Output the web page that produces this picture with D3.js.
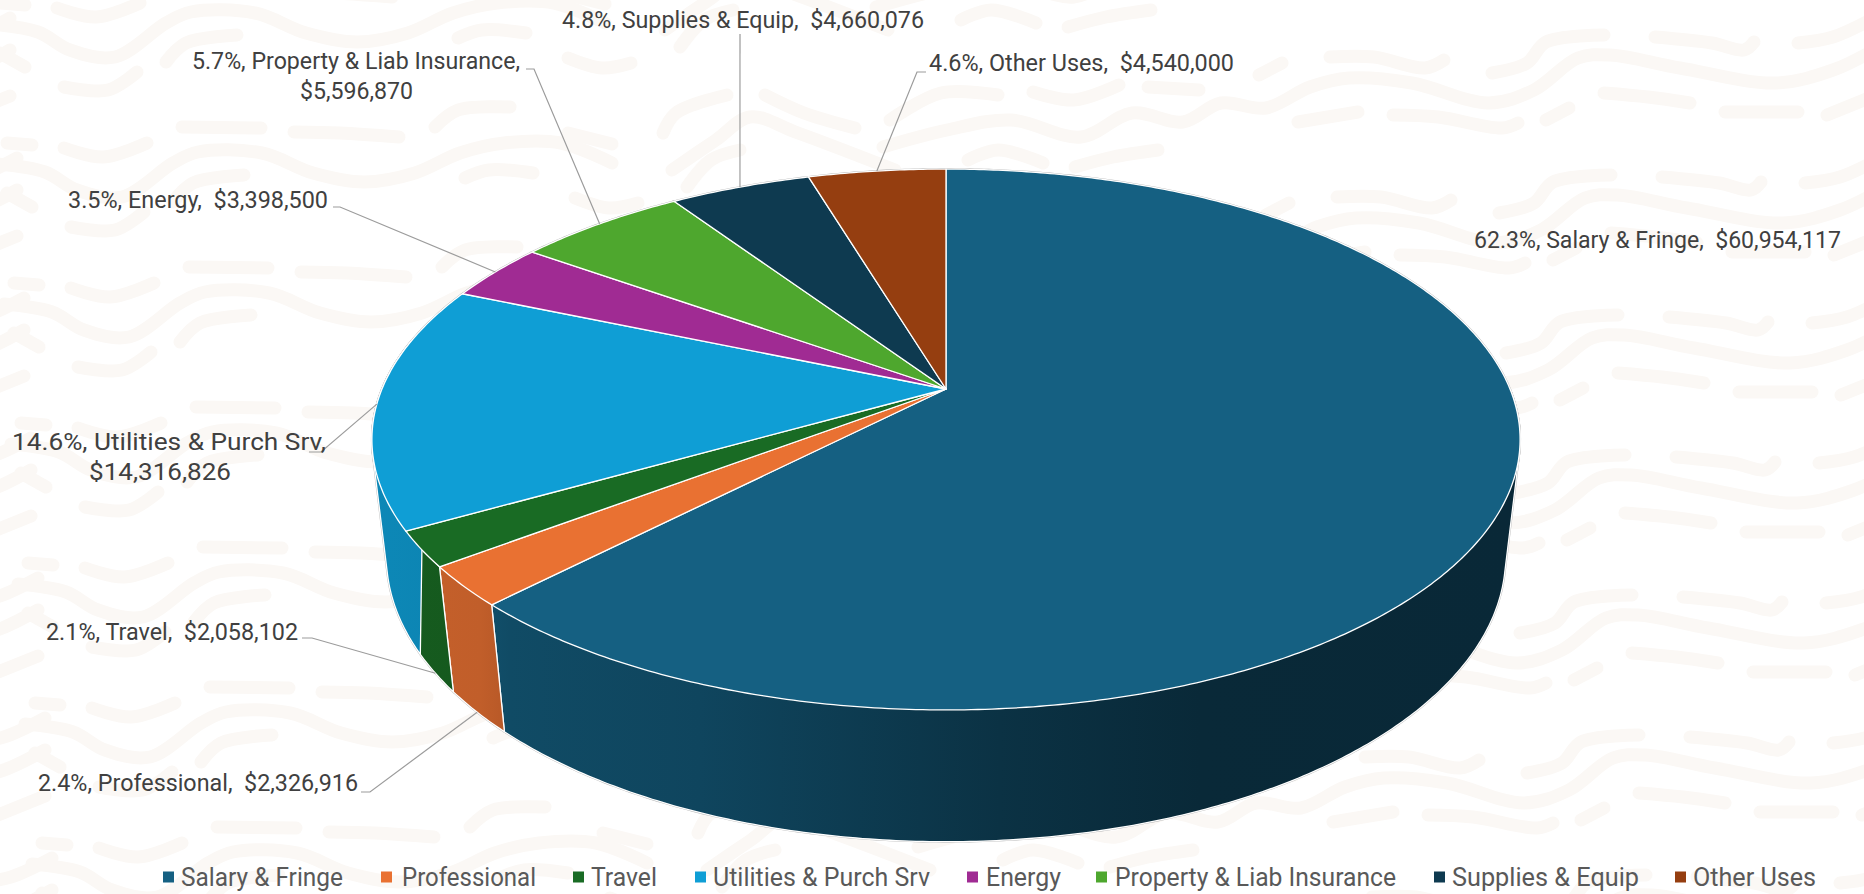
<!DOCTYPE html>
<html>
<head>
<meta charset="utf-8">
<script src="https://cdn.jsdelivr.net/npm/d3@7"></script>
<style>
  html, body { margin: 0; padding: 0; background: #fff; overflow: hidden; }
  text { font-family: Roboto, "Liberation Sans", sans-serif; white-space: pre; }
</style>
</head>
<body>
<svg id="chart" width="1864" height="894"></svg>
<script>
// Budget categories and amounts, in slice order starting from twelve o'clock.
const categories = ["Salary & Fringe", "Professional", "Travel", "Utilities & Purch Srv",
                    "Energy", "Property & Liab Insurance", "Supplies & Equip", "Other Uses"];
const amounts = [60954117, 2326916, 2058102, 14316826, 3398500, 5596870, 4660076, 4540000];
const sliceColors = ["#156082", "#E97132", "#196B24", "#0F9ED5", "#A02B93", "#4EA72E", "#0E3A50", "#953E10"];

// Data label placement: left edge, width, vertical centre of each line.
const labelLines = [
  [[1474, 367, 240]],
  [[38, 320, 783]],
  [[46, 252, 632]],
  [[12, 314, 442], [89, 142, 472]],
  [[68, 260, 200]],
  [[192, 328, 61], [300, 113, 91]],
  [[562, 362, 20]],
  [[929, 305, 63]]
];
// Elbow of each leader line: start of the stub, end of the stub. The salary label has none.
const leaderStubs = [null, [[361, 792], [370, 792]], [[302, 638], [312, 638]], [[309, 452], [321, 452]],
                     [[333, 207], [340, 207]], [[526, 69], [534, 69]], [[740, 34], [740, 34]], [[926, 72], [917, 72]]];
// Leaders that land on the lower rim of the disc rather than the upper one.
const leaderOnLowerRim = [false, true, true, false, false, false, false, false];

// Legend: marker left edge, text left edge, text width.
const legendMarkerX = [163, 381, 573, 695, 967, 1096, 1434, 1675];
const legendTextX = [181, 402, 591, 713, 986, 1115, 1452, 1693];
const legendTextW = [162, 134, 66, 217, 75, 281, 187, 123];

// Side-wall shading across the page, as [x, brightness].
const wallShade = [[370, .86], [480, .83], [510, .78], [700, .72], [1000, .52], [1200, .43], [1520, .42]];

// Wallpaper strokes; the whole set repeats down the page.
const waveStrokes = [
  [[-10,24],[38,32],[70,50],[115,57],[166,23],[191,12],[255,13],[306,33],[357,42],[408,33],[453,13],[497,3],[554,3],[605,23]],
  [[57,8],[96,17],[140,3]], [[0,3],[25,5]], [[0,53],[25,67]], [[64,87],[108,90],[137,72]],
  [[166,62],[186,43],[237,35]], [[458,38],[482,30],[526,33]], [[435,127],[458,110],[510,107]],
  [[182,127],[261,128]], [[294,132],[340,133],[399,137]], [[568,58],[602,68],[631,63]], [[568,133],[612,144]],
  [[663,133],[676,113],[727,95]], [[765,95],[804,113],[855,128]], [[680,47],[704,20],[733,10]],
  [[961,20],[991,10],[1036,23]], [[1068,27],[1106,17],[1151,10]],
  [[665,30],[709,0],[743,-23],[791,-7],[888,30]],
  [[883,147],[947,130],[1011,120],[1081,137],[1132,113],[1183,122],[1221,103],[1266,108],[1310,87],[1349,78],[1412,83],[1489,103],[1534,90],[1578,58],[1610,55],[1680,68],[1776,83],[1833,70],[1874,50]],
  [[1330,57],[1374,57],[1425,68],[1444,60]], [[1259,75],[1282,63]],
  [[1492,73],[1527,63],[1546,42],[1604,35]], [[1655,37],[1712,43],[1744,50],[1754,42]],
  [[1798,43],[1833,37],[1874,18]], [[1604,93],[1648,97],[1690,103]], [[1725,112],[1798,112]],
  [[1827,115],[1874,96]], [[1546,120],[1569,108]], [[1298,122],[1358,112]],
  [[1393,115],[1438,117],[1502,128],[1518,123]], [[890,120],[941,93],[998,95]],
  [[1033,92],[1074,100],[1119,85]], [[1148,87],[1199,90]]
];

const svg = d3.select("#chart");
const total = d3.sum(amounts);

// Background wallpaper.
const waveLine = d3.line().curve(d3.curveCatmullRom.alpha(0.5));
const wall = svg.append("g").attr("fill", "none").attr("stroke", "#fbf8f5")
  .attr("stroke-width", 13).attr("stroke-linecap", "round").attr("stroke-linejoin", "round");
d3.range(-1, 7).forEach(row => {
  [0, -1864].forEach(wrap => {
    wall.append("g").attr("transform", `translate(${row * 7 + wrap},${row * 140})`)
      .selectAll("path").data(waveStrokes).join("path").attr("d", d => waveLine(d));
  });
});

// Perspective projection of the disc: theta runs clockwise from the far point,
// drop is 0 on the top face and 1 on the bottom face.
const camera = { cx: 946, cy: 389, a: 564, b: 261, tilt: 0.1867, fall: 0.025, height: 118.5 };
function project(theta, radius, drop) {
  const across = Math.sin(theta) * radius, depth = Math.cos(theta) * radius;
  const s = 1 / (1 + camera.tilt * depth + camera.fall * drop);
  return [camera.cx + camera.a * across * s, camera.cy + (camera.height * drop - camera.b * depth) * s];
}
function rimPoints(start, end, drop) {
  const n = Math.max(2, Math.ceil((end - start) / 0.01));
  return d3.range(n + 1).map(i => project(start + (end - start) * i / n, 1, drop));
}

const slices = d3.pie().sort(null).value(d => d)(amounts);
const outline = d3.line();

// Side-wall gradients.
const defs = svg.append("defs");
sliceColors.forEach((color, i) => {
  const grad = defs.append("linearGradient").attr("id", `wall-${i}`)
    .attr("gradientUnits", "userSpaceOnUse").attr("x1", 370).attr("x2", 1520).attr("y1", 0).attr("y2", 0);
  const base = d3.rgb(color);
  wallShade.forEach(([x, k]) => {
    grad.append("stop").attr("offset", (x - 370) / 1150)
      .attr("stop-color", d3.rgb(base.r * k, base.g * k, base.b * k).formatHex());
  });
});

// Only the part of each wall facing the viewer is drawn. The hull of the two rim
// arcs takes in the straight tangent edges at the left and right of the body;
// its inner side is covered by the top face.
const wallFrom = Math.PI * 0.5, wallTo = Math.PI * 1.56;
const walls = slices.map((s, i) => {
  const from = Math.max(s.startAngle, wallFrom), to = Math.min(s.endAngle, wallTo);
  if (to <= from) return null;
  const hull = d3.polygonHull(rimPoints(from, to, 0).concat(rimPoints(from, to, 1)));
  return { i, d: outline(hull) + "Z" };
}).filter(Boolean);
const topFaces = slices.map((s, i) => ({
  i, d: outline([[camera.cx, camera.cy]].concat(rimPoints(s.startAngle, s.endAngle, 0))) + "Z"
}));

// Thin grey contour around the whole body.
const contour = svg.append("g").attr("fill", "none").attr("stroke", "#b4b4b4").attr("stroke-width", 1.9);
contour.selectAll("path.w").data(walls).join("path").attr("class", "w").attr("d", d => d.d);
contour.selectAll("path.t").data(topFaces).join("path").attr("class", "t").attr("d", d => d.d);

svg.append("g").selectAll("path").data(walls).join("path")
  .attr("d", d => d.d).attr("fill", d => `url(#wall-${d.i})`)
  .attr("stroke", "#fff").attr("stroke-width", 1.3).attr("stroke-linejoin", "round");
svg.append("g").selectAll("path").data(topFaces).join("path")
  .attr("d", d => d.d).attr("fill", d => sliceColors[d.i])
  .attr("stroke", "#fff").attr("stroke-width", 1.3).attr("stroke-linejoin", "round");

// Leader lines run from the label elbow to the rim at the slice's mid-angle.
const leaders = svg.append("g").attr("fill", "none").attr("stroke", "#9c9c9c").attr("stroke-width", 1.2);
slices.forEach((s, i) => {
  if (!leaderStubs[i]) return;
  const mid = (s.startAngle + s.endAngle) / 2;
  const anchor = project(mid, 1, leaderOnLowerRim[i] ? 1 : 0);
  leaders.append("path").attr("d", outline([leaderStubs[i][0], leaderStubs[i][1], anchor]));
});

// Data labels: "share, category,  amount", broken onto two lines where the slot is narrow.
const usd = d3.format("$,.0f");
const textColor = "#404040";
const labels = svg.append("g").attr("fill", textColor).attr("font-size", 24);
amounts.forEach((v, i) => {
  const share = `${(v / total * 100).toFixed(1)}%, ${categories[i]},`;
  const lines = labelLines[i].length === 2 ? [share, usd(v)] : [`${share}  ${usd(v)}`];
  lines.forEach((line, j) => {
    const [x, w, y] = labelLines[i][j];
    labels.append("text").attr("x", x).attr("y", y).attr("dy", "0.35em")
      .attr("textLength", w).attr("lengthAdjust", "spacingAndGlyphs").text(line);
  });
});

// Legend along the bottom edge.
const legendY = 877;
const legend = svg.append("g");
categories.forEach((name, i) => {
  legend.append("rect").attr("x", legendMarkerX[i]).attr("y", legendY - 5.5)
    .attr("width", 11).attr("height", 11).attr("fill", sliceColors[i]);
  legend.append("text").attr("x", legendTextX[i]).attr("y", legendY).attr("dy", "0.35em")
    .attr("font-size", 26).attr("fill", "#595959")
    .attr("textLength", legendTextW[i]).attr("lengthAdjust", "spacingAndGlyphs").text(name);
});
</script>
</body>
</html>
